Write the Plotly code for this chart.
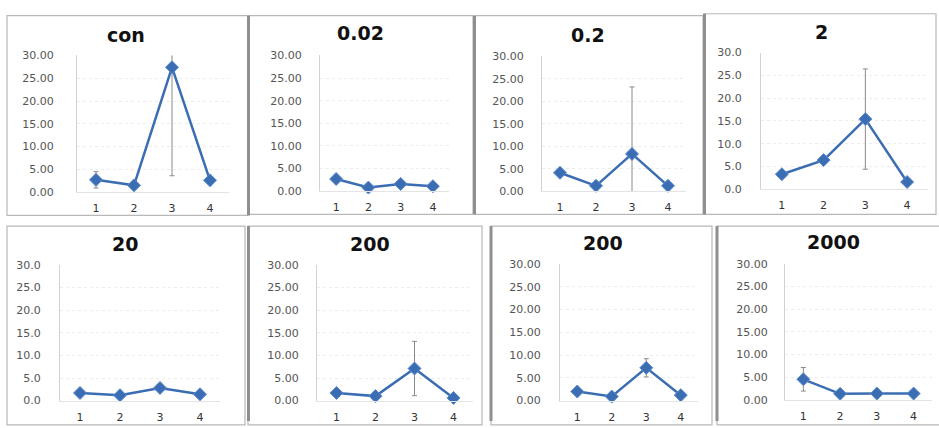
import plotly.graph_objects as go

W, H = 939, 428

# Time points on the x axis
categories = [1, 2, 3, 4]

# Panel titles (dose groups)
titles = ["con", "0.02", "0.2", "2", "20", "200", "200", "2000"]

# Mean values per dose group
vals_con = [2.7, 1.5, 27.4, 2.6]
vals_002 = [2.7, 0.8, 1.6, 1.1]
vals_02 = [4.1, 1.2, 8.3, 1.2]
vals_2 = [3.3, 6.4, 15.4, 1.6]
vals_20 = [1.7, 1.2, 2.8, 1.4]
vals_200a = [1.7, 1.0, 7.1, 0.6]
vals_200b = [2.0, 0.9, 7.2, 1.2]
vals_2000 = [4.5, 1.3, 1.35, 1.35]

# Error (SD) per dose group
err_con = [1.8, 0.3, 23.8, 0.4]
err_002 = [0.3, 0.2, 0.3, 0.2]
err_02 = [0.3, 0.2, 14.9, 0.2]
err_2 = [0.3, 0.5, 11.0, 0.3]
err_20 = [0.3, 0.2, 0.8, 0.2]
err_200a = [0.5, 0.2, 6.0, 0.2]
err_200b = [0.3, 0.2, 2.0, 0.2]
err_2000 = [2.6, 0.3, 0.3, 0.3]

# y-axis tick values and label formats
y_ticks = [0, 5, 10, 15, 20, 25, 30]
tick_formats = [".2f", ".2f", ".2f", ".1f", ".1f", ".2f", ".2f", ".2f"]

series = [vals_con, vals_002, vals_02, vals_2, vals_20, vals_200a, vals_200b, vals_2000]
errors = [err_con, err_002, err_02, err_2, err_20, err_200a, err_200b, err_2000]

# Plot-area geometry in pixels: (x_left, x_right, y_top(=30), y_bottom(=0))
areas = [
    (77, 229, 51, 192),
    (320, 449, 51, 191),
    (542, 686, 52, 191),
    (761, 928, 48, 189),
    (60, 220, 267, 407),
    (317, 473, 267, 407),
    (560, 698, 266, 407),
    (785, 932, 266, 406),
]
title_pos = [(126, 30), (360, 28), (588, 30), (821, 27),
             (125, 245), (370, 245), (603, 244), (833, 243)]
ystandoff = [20, 15, 15, 16, 16, 15, 16, 14]

LINE = "#3b6db3"
fig = go.Figure()

def px(x):
    return x / W

def py(y):
    return 1 - y / H

for i in range(8):
    n = i + 1
    xa = "x" if n == 1 else f"x{n}"
    ya = "y" if n == 1 else f"y{n}"
    x0, x1, yt, yb = areas[i]
    # error bars (clipped to the plot area)
    fig.add_trace(go.Scatter(
        x=categories, y=series[i], xaxis=xa, yaxis=ya, mode="markers",
        marker=dict(opacity=0, size=1), cliponaxis=True, showlegend=False,
        hoverinfo="skip",
        error_y=dict(type="data", array=errors[i], visible=True,
                     color="#8a8a8a", thickness=1, width=2.5),
    ))
    fig.add_trace(go.Scatter(
        x=categories, y=series[i], xaxis=xa, yaxis=ya, mode="lines+markers",
        line=dict(color=LINE, width=2.5),
        marker=dict(symbol="diamond", size=10, color=LINE,
                    line=dict(color="#5d8bd0", width=1)),
        cliponaxis=False, showlegend=False,
    ))
    lay_x = "xaxis" if n == 1 else f"xaxis{n}"
    lay_y = "yaxis" if n == 1 else f"yaxis{n}"
    fig.layout[lay_x] = dict(
        domain=[px(x0), px(x1)], range=[0.5, 4.5], anchor=ya,
        tickvals=categories, ticktext=[str(c) for c in categories],
        showgrid=False, zeroline=False, showline=True, linecolor="#e4e4e4",
        ticks="outside", ticklen=6, tickcolor="rgba(0,0,0,0)",
        tickfont=dict(family="DejaVu Sans", size=11, color="#333333"),
        fixedrange=True,
    )
    fig.layout[lay_y] = dict(
        domain=[py(yb), py(yt)], range=[0, 30], anchor=xa,
        tickvals=y_ticks, tickformat=tick_formats[i],
        showgrid=True, gridcolor="#ececec", griddash="dot", gridwidth=1,
        zeroline=False, showline=True, linecolor="#d2d2d2",
        ticks="outside", ticklen=ystandoff[i], tickcolor="rgba(0,0,0,0)",
        tickfont=dict(family="DejaVu Sans", size=11, color="#555555"),
        fixedrange=True,
    )
    tx, ty = title_pos[i]
    fig.add_annotation(
        x=px(tx), y=py(ty), xref="paper", yref="paper", text=titles[i],
        showarrow=False, xanchor="center", yanchor="middle",
        font=dict(family="DejaVu Sans", size=19, color="#111111", weight="bold"),
    )

# Panel frames
shapes = []

def frame(x0, y0, x1, y1, color="#b8b8b8", width=1.2):
    shapes.append(dict(type="rect", xref="paper", yref="paper",
                       x0=px(x0), x1=px(x1), y0=py(y1), y1=py(y0),
                       line=dict(color=color, width=width), fillcolor="rgba(0,0,0,0)"))

def vline(x, y0, y1, color="#8f8f8f", width=3):
    shapes.append(dict(type="line", xref="paper", yref="paper",
                       x0=px(x), x1=px(x), y0=py(y0), y1=py(y1),
                       line=dict(color=color, width=width)))

frame(7, 10, 248, 216)
frame(248, 10, 473, 215)
frame(475, 10, 703, 215)
frame(704, 8, 936, 215)
frame(7, 227, 245, 432)
frame(248, 227, 482, 432)
frame(491, 227, 712, 432)
frame(717, 227, 942, 432)
vline(248.5, 10, 216)
vline(474.5, 10, 215)
vline(704.5, 8, 215)
vline(248.5, 227, 428)
vline(491, 227, 428)
vline(717, 227, 428)

fig.update_layout(
    width=W, height=H, margin=dict(l=0, r=0, t=0, b=0),
    paper_bgcolor="white", plot_bgcolor="white", shapes=shapes,
)

fig.write_html("out.html")
